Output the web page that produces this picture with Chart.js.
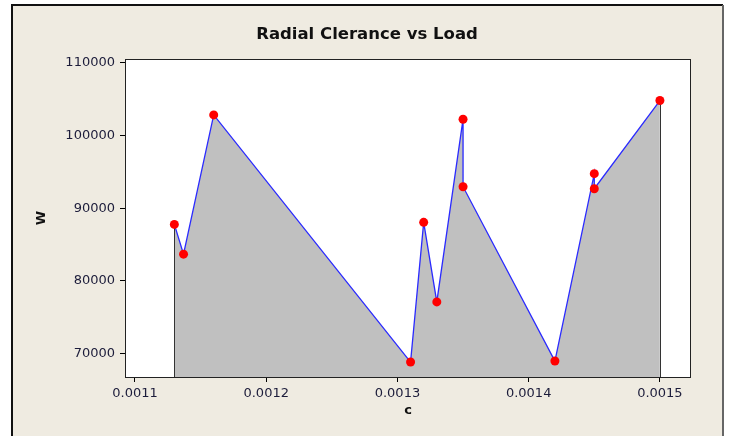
<!DOCTYPE html>
<html>
<head>
<meta charset="utf-8">
<script src="https://cdn.jsdelivr.net/npm/chart.js@4/dist/chart.umd.min.js"></script>
<style>
  html, body { margin: 0; padding: 0; background: #fff; }
  #wrap { width: 732px; height: 436px; }
</style>
</head>
<body>
<div id="wrap"><canvas id="loadChart" width="732" height="436"></canvas></div>
<script>
// radial clearance c and load W
const clearance = [0.00113, 0.001137, 0.00116, 0.00131, 0.00132, 0.00133, 0.00135, 0.00135, 0.00142, 0.00145, 0.00145, 0.0015];
const load = [87780, 83680, 102850, 68830, 88060, 77110, 102260, 92970, 68970, 94760, 92690, 104830];

const xTicks = [0.0011, 0.0012, 0.0013, 0.0014, 0.0015];
const yTicks = [70000, 80000, 90000, 100000, 110000];

const chartTitle = 'Radial Clerance vs Load';
const tickFont = { family: 'DejaVu Sans', size: 13 };
const tickColor = '#1c1c3a';

// beige panel, outer frame, white plot area and the title (centred on the panel)
const panelPlugin = {
  id: 'panel',
  beforeDraw(chart) {
    const ctx = chart.ctx;
    const a = chart.chartArea;
    ctx.save();
    ctx.fillStyle = '#ffffff';
    ctx.fillRect(0, 0, chart.width, chart.height);
    ctx.fillStyle = '#efebe1';
    ctx.fillRect(12, 5, 711, chart.height);
    ctx.lineWidth = 2;
    ctx.strokeStyle = '#111';
    ctx.beginPath();
    ctx.moveTo(12, chart.height);
    ctx.lineTo(12, 5);
    ctx.lineTo(723, 5);
    ctx.stroke();
    ctx.strokeStyle = '#666';
    ctx.beginPath();
    ctx.moveTo(723, 5);
    ctx.lineTo(723, chart.height);
    ctx.stroke();
    ctx.fillStyle = '#ffffff';
    ctx.fillRect(a.left, a.top, a.right - a.left, a.bottom - a.top);
    ctx.fillStyle = '#111';
    ctx.font = 'bold 16.5px "DejaVu Sans"';
    ctx.textAlign = 'center';
    ctx.textBaseline = 'middle';
    ctx.fillText(chartTitle, 367, 35);
    ctx.restore();
  },
  beforeDatasetDraw(chart) {
    // dark edges closing the filled area at both ends
    const ctx = chart.ctx;
    const xs = chart.scales.x, ys = chart.scales.y;
    const last = clearance.length - 1;
    ctx.save();
    ctx.strokeStyle = '#333';
    ctx.lineWidth = 1;
    [[clearance[0], load[0]], [clearance[last], load[last]]].forEach(([c, w]) => {
      const px = Math.round(xs.getPixelForValue(c)) + 0.5;
      ctx.beginPath();
      ctx.moveTo(px, chart.chartArea.bottom);
      ctx.lineTo(px, ys.getPixelForValue(w));
      ctx.stroke();
    });
    ctx.restore();
  },
  afterDraw(chart) {
    const ctx = chart.ctx;
    const a = chart.chartArea;
    ctx.save();
    ctx.strokeStyle = '#222';
    ctx.lineWidth = 1;
    ctx.strokeRect(a.left + 0.5, a.top + 0.5, a.right - a.left - 1, a.bottom - a.top);
    ctx.restore();
  }
};

new Chart(document.getElementById('loadChart'), {
  type: 'scatter',
  data: {
    datasets: [{
      label: 'W',
      data: clearance.map((c, i) => ({ x: c, y: load[i] })),
      showLine: true,
      fill: 'start',
      backgroundColor: '#c0c0c0',
      borderColor: '#2a2aff',
      borderWidth: 1.3,
      tension: 0,
      pointRadius: 4.5,
      pointBackgroundColor: '#ff0000',
      pointBorderColor: '#ff0000',
      pointBorderWidth: 0
    }]
  },
  options: {
    responsive: false,
    animation: false,
    layout: { padding: { left: 13, right: 41, top: 59, bottom: 0 } },
    plugins: {
      legend: { display: false },
      tooltip: { enabled: false },
      title: { display: false }
    },
    scales: {
      x: {
        type: 'linear',
        min: 0.0010924,
        max: 0.0015237,
        afterFit(s) { s.height = 59; },
        afterBuildTicks(s) { s.ticks = xTicks.map(v => ({ value: v })); },
        grid: { drawOnChartArea: false, drawTicks: true, tickLength: 5, color: '#000' },
        border: { display: false },
        ticks: {
          color: tickColor, font: tickFont, padding: 4, maxRotation: 0,
          callback: v => String(v)
        },
        title: {
          display: true, text: 'c', color: '#111',
          font: { family: 'DejaVu Sans', size: 13, weight: 'bold' },
          padding: { top: 0, bottom: 18 }
        }
      },
      y: {
        type: 'linear',
        min: 66770,
        max: 110550,
        afterFit(s) { s.width = 112; },
        afterBuildTicks(s) { s.ticks = yTicks.map(v => ({ value: v })); },
        grid: { drawOnChartArea: false, drawTicks: true, tickLength: 5, color: '#000' },
        border: { display: false },
        ticks: { color: tickColor, font: tickFont, padding: 5, callback: v => String(v) },
        title: {
          display: true, text: 'W', color: '#111',
          font: { family: 'DejaVu Sans', size: 13, weight: 'bold' },
          padding: { top: 21, bottom: 0 }
        }
      }
    }
  },
  plugins: [panelPlugin]
});
</script>
</body>
</html>
